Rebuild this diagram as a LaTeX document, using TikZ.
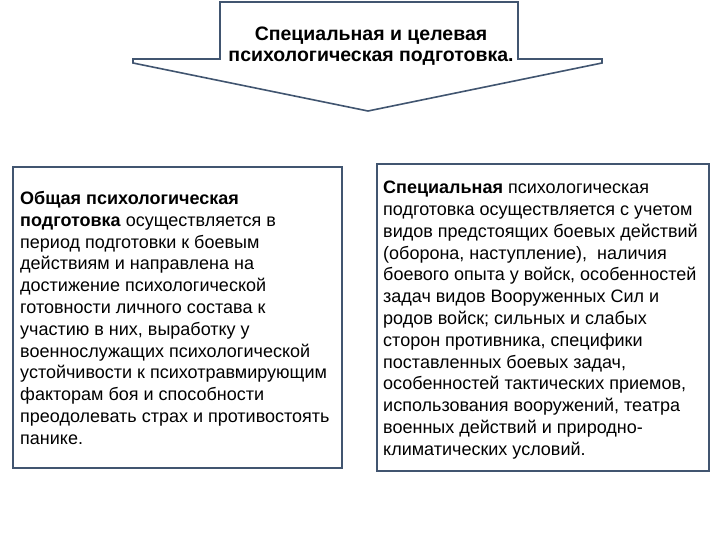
\documentclass[tikz,border=0pt]{standalone}
\usepackage{fontspec}
\setmainfont{Liberation Sans}
\definecolor{bord}{HTML}{415570}
\begin{document}
\begin{tikzpicture}[x=1pt,y=-1pt,
  shp/.style={draw=bord,line width=1.6pt,fill=white},
  txt/.style={align=left,anchor=north west,inner sep=0pt,font=\fontsize{18}{21.8}\selectfont}]
\useasboundingbox (0,0) rectangle (720,540);
\draw[shp] (220,2) -- (518,2) -- (518,59) -- (602,59) -- (602,63) -- (368,111) -- (133,63) -- (133,59) -- (220,59) -- cycle;
\node[align=center,font=\bfseries\fontsize{19.5}{21}\selectfont] (title) at (371,46) {Специальная и целевая\\психологическая подготовка.};
\draw[shp] (13,167) rectangle (342,468);
\draw[shp] (377,164) rectangle (709,471);
\node[txt] (left) at (20,191) {\textbf{Общая психологическая}\\\textbf{подготовка} осуществляется в\\период подготовки к боевым\\действиям и направлена на\\достижение психологической\\готовности личного состава к\\участию в них, выработку у\\военнослужащих психологической\\устойчивости к психотравмирующим\\факторам боя и способности\\преодолевать страх и противостоять\\панике.};
\node[txt] (right) at (383,181) {\textbf{Специальная} психологическая\\подготовка осуществляется с учетом\\видов предстоящих боевых действий\\(оборона, наступление),\ \ наличия\\боевого опыта у войск, особенностей\\задач видов Вооруженных Сил и\\родов войск; сильных и слабых\\сторон противника, специфики\\поставленных боевых задач,\\особенностей тактических приемов,\\использования вооружений, театра\\военных действий и природно-\\климатических условий.};
\end{tikzpicture}
\end{document}
